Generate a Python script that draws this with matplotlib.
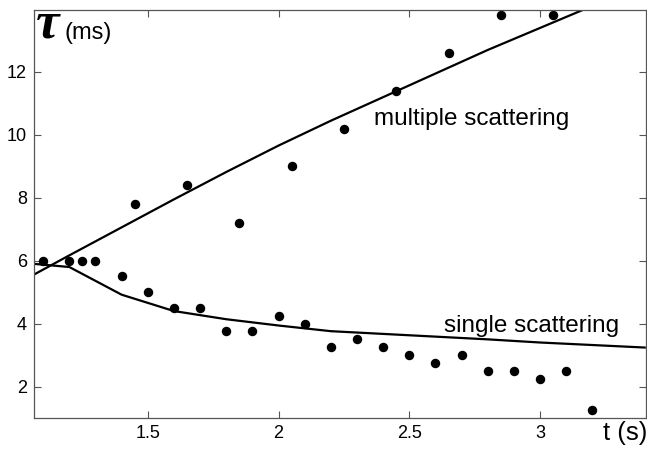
import matplotlib
matplotlib.use("Agg")
import matplotlib.pyplot as plt

plt.rcParams['font.family'] = ['Liberation Sans', 'DejaVu Sans']

# measured points (t in s, tau in ms)
t_pts = [1.1, 1.2, 1.25, 1.3, 1.4, 1.5, 1.6, 1.7, 1.8, 1.9, 2.0, 2.1, 2.2, 2.3,
         2.4, 2.5, 2.6, 2.7, 2.8, 2.9, 3.0, 3.1, 3.2,
         1.45, 1.65, 1.85, 2.05, 2.25, 2.45, 2.65, 2.85, 3.05]
tau_pts = [6.0, 6.0, 6.0, 6.0, 5.5, 5.0, 4.5, 4.5, 3.75, 3.75, 4.25, 4.0, 3.25, 3.5,
           3.25, 3.0, 2.75, 3.0, 2.5, 2.5, 2.25, 2.5, 1.25,
           7.8, 8.4, 7.2, 9.0, 10.2, 11.4, 12.6, 13.8, 13.8]

# model curves
t_multi = [1.065, 1.2, 1.4, 1.6, 1.8, 2.0, 2.2, 2.4, 2.6, 2.8, 3.0, 3.2]
tau_multi = [5.56, 6.17, 7.06, 7.95, 8.82, 9.66, 10.45, 11.2, 11.95, 12.7, 13.4, 14.1]

t_single = [1.065, 1.2, 1.4, 1.6, 1.8, 2.0, 2.2, 2.5, 2.8, 3.0, 3.4]
tau_single = [5.9, 5.8, 4.92, 4.4, 4.14, 3.94, 3.76, 3.63, 3.5, 3.4, 3.24]

xticks = [1.5, 2, 2.5, 3]
xticklabels = ['1.5', '2', '2.5', '3']
yticks = [2, 4, 6, 8, 10, 12]

fig = plt.figure(figsize=(6.47, 4.49), dpi=100)
ax = fig.add_axes([34 / 647, 1 - 418 / 449, 612 / 647, 408 / 449])

ax.plot(t_multi, tau_multi, color='black', lw=1.6)
ax.plot(t_single, tau_single, color='black', lw=1.6)
ax.plot(t_pts, tau_pts, 'o', color='black', ms=5.8, clip_on=False)

ax.set_xlim(1.065, 3.405)
ax.set_ylim(1.0, 13.97)
ax.set_xticks(xticks)
ax.set_xticklabels(xticklabels)
ax.set_yticks(yticks)
ax.tick_params(direction='in', length=5, width=0.8, color='#555555',
               labelsize=13, top=True, right=True, pad=5)
for s in ax.spines.values():
    s.set_color('#555555')
    s.set_linewidth(0.9)

ax.text(2.366, 10.3, 'multiple scattering', fontsize=17.5, va='baseline', ha='left')
ax.text(2.634, 3.72, 'single scattering', fontsize=17.5, va='baseline', ha='left')

fig.text(603 / 647, 1 - 440 / 449, 't (s)', fontsize=18.5, va='baseline', ha='left')
fig.text(36 / 647, 1 - 38 / 449, 'τ', fontsize=38, va='baseline', ha='left',
         family='Liberation Serif', style='italic', weight='bold')
fig.text(64 / 647, 1 - 39 / 449, '(ms)', fontsize=17, va='baseline', ha='left')

fig.savefig('out.png', dpi=100)
